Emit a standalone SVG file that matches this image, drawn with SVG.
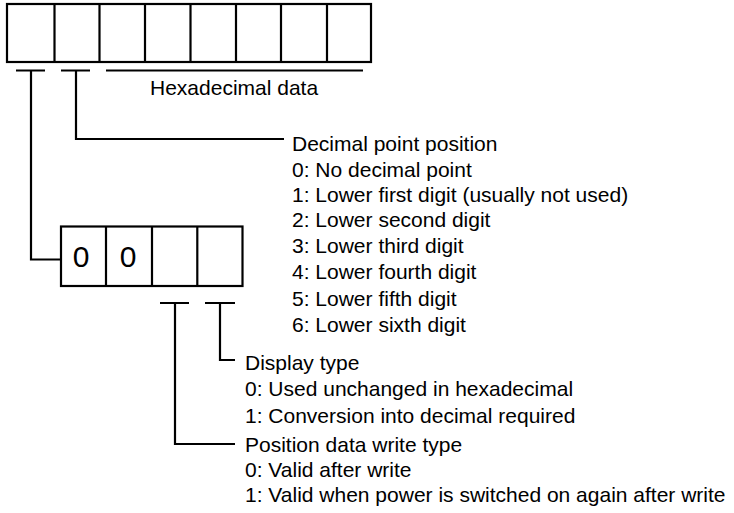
<svg xmlns="http://www.w3.org/2000/svg" width="734" height="513" viewBox="0 0 734 513">
<style>
.ln{stroke:#000;stroke-width:2.2;fill:none;stroke-linecap:butt}
.box{stroke:#000;stroke-width:2.2;fill:#fff}
text{font-family:"Liberation Sans",Arial,sans-serif;font-size:21px;fill:#000}
.big{font-size:30px;text-anchor:middle}
</style>
<rect width="734" height="513" fill="#fff"/>
<g id="top-register">
<rect class="box" x="7" y="4" width="364" height="58"/>
<path class="ln" d="M54.5 4V62M99.5 4V62M145 4V62M190.5 4V62M236 4V62M281 4V62M327 4V62"/>
</g>
<g id="hex-label">
<text x="150" y="95">Hexadecimal data</text>
</g>
<g id="low-register">
<rect class="box" x="61" y="226.5" width="181.5" height="59.5"/>
<path class="ln" d="M106 226.5V286M152 226.5V286M197.3 226.5V286"/>
<text class="big" x="81" y="267">0</text>
<text class="big" x="128" y="267">0</text>
</g>
<g id="decimal-point">
<text x="292" y="151">Decimal point position</text>
<text x="292" y="176.5">0: No decimal point</text>
<text x="292" y="201.5">1: Lower first digit (usually not used)</text>
<text x="292" y="227">2: Lower second digit</text>
<text x="292" y="253">3: Lower third digit</text>
<text x="292" y="279">4: Lower fourth digit</text>
<text x="292" y="305.5">5: Lower fifth digit</text>
<text x="292" y="332">6: Lower sixth digit</text>
</g>
<g id="display-type">
<text x="245" y="370">Display type</text>
<text x="245" y="396">0: Used unchanged in hexadecimal</text>
<text x="245" y="422.5">1: Conversion into decimal required</text>
</g>
<g id="position-write">
<text x="245" y="452">Position data write type</text>
<text x="245" y="477">0: Valid after write</text>
<text x="245" y="501.5">1: Valid when power is switched on again after write</text>
</g>
<g id="connectors">
<path class="ln" d="M16 70.5H45M61 70.5H90M106 70.5H363"/>
<path class="ln" d="M31 70.5V259.5H61"/>
<path class="ln" d="M76 70.5V139H284"/>
<path class="ln" d="M160 303H189M205 303H235"/>
<path class="ln" d="M220 303V360H235"/>
<path class="ln" d="M175 303V444H235"/>
</g>
</svg>
